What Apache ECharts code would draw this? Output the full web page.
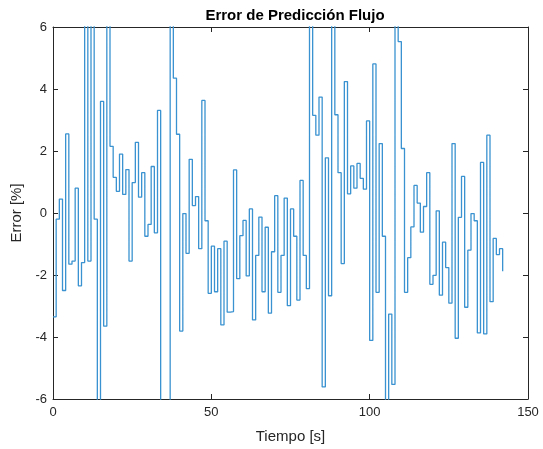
<!DOCTYPE html>
<html>
<head>
<meta charset="utf-8">
<script src="https://cdn.jsdelivr.net/npm/echarts@6/dist/echarts.min.js"></script>
<style>
  html, body { margin: 0; padding: 0; background: #ffffff; }
  #chart { width: 543px; height: 449px; }
</style>
</head>
<body>
<div id="chart"></div>
<script>
// Prediction error of the flow, one sample per second (stairs plot)
const sampleTime = 1; // s
const errorPct = [
  -3.35, -0.2, 0.45, -2.5, 2.55, -1.65, -1.55, 0.8, -2.35, -1.6,
  7.5, -1.55, 7.5, -0.2, -7.5, 3.6, -3.65, 7.5, 2.15, 1.15,
  0.7, 1.9, 0.6, 1.4, -1.55, 0.98, 2.28, 0.51, 1.3, -0.75,
  -0.37, 1.5, -0.64, 3.31, -7.5, -8.0, -7.5, 7.5, 4.35, 2.54,
  -3.81, -0.02, -1.3, 1.73, 0.24, 0.53, -1.15, 3.63, -0.25, -2.59,
  -1.07, -2.54, -1.15, -3.61, -0.91, -3.2, -3.18, 1.39, -2.12, -0.73,
  -0.24, -2.03, 0.13, -3.45, -1.37, -0.13, -2.54, -0.46, -3.23, -1.25,
  0.56, -2.56, -1.37, 0.48, -2.99, 0.13, -0.75, -2.81, 1.05, -1.37,
  -2.44, 7.5, 3.15, 2.51, 3.74, -5.61, 1.78, -2.67, 7.5, 3.17,
  1.3, -1.63, 4.24, 0.62, 1.52, 0.8, 1.6, 1.12, 0.77, 2.97,
  -4.11, 4.81, -2.56, 2.24, -0.75, -7.5, -3.26, -5.53, 7.5, 5.53,
  2.08, -2.56, -1.44, -0.45, 0.89, 0.32, -0.62, 0.21, 1.3, -2.3,
  -2.01, 0.07, -2.65, -0.94, -1.76, -2.91, 2.24, -4.04, -0.14, 1.18,
  -3.04, -1.2, -0.02, -0.25, -3.87, 1.63, -3.9, 2.51, -2.86, -0.82,
  -1.34, -1.15, -1.88
];
const xTicks = [0, 50, 100, 150];
const yTicks = [-6, -4, -2, 0, 2, 4, 6];

const axisColor = '#262626';
const fontFamily = '"Liberation Sans", Arial, Helvetica, sans-serif';

const points = errorPct.map((v, i) => [i * sampleTime, v]);

const chart = echarts.init(document.getElementById('chart'), null, { renderer: 'canvas' });

const baseAxis = {
  type: 'value',
  axisLine: { show: true, onZero: false, lineStyle: { color: axisColor, width: 1 } },
  axisTick: { show: true, inside: true, length: 5, lineStyle: { color: axisColor, width: 1 } },
  splitLine: { show: false },
  axisLabel: { color: axisColor, fontSize: 13, fontFamily: fontFamily }
};

chart.setOption({
  animation: false,
  backgroundColor: '#ffffff',
  title: {
    text: 'Error de Predicción Flujo',
    left: 290,
    top: 3,
    textAlign: 'center',
    textStyle: { color: '#000000', fontSize: 15, fontWeight: 'bold', fontFamily: fontFamily }
  },
  grid: { left: 53, right: 15, top: 27, bottom: 49, containLabel: false },
  xAxis: [
    Object.assign({}, baseAxis, {
      position: 'bottom',
      min: xTicks[0], max: xTicks[xTicks.length - 1], interval: 50,
      name: 'Tiempo [s]',
      nameLocation: 'middle',
      nameGap: 30,
      nameTextStyle: { color: axisColor, fontSize: 15, fontFamily: fontFamily },
      axisLabel: Object.assign({}, baseAxis.axisLabel, { margin: 7 })
    }),
    Object.assign({}, baseAxis, {
      position: 'top',
      min: xTicks[0], max: xTicks[xTicks.length - 1], interval: 50,
      axisLabel: { show: false }
    })
  ],
  yAxis: [
    Object.assign({}, baseAxis, {
      position: 'left',
      min: yTicks[0], max: yTicks[yTicks.length - 1], interval: 2,
      name: 'Error [%]',
      nameLocation: 'middle',
      nameGap: 20,
      nameTextStyle: { color: axisColor, fontSize: 15, fontFamily: fontFamily },
      axisLabel: Object.assign({}, baseAxis.axisLabel, { margin: 6 })
    }),
    Object.assign({}, baseAxis, {
      position: 'right',
      min: yTicks[0], max: yTicks[yTicks.length - 1], interval: 2,
      axisLabel: { show: false }
    })
  ],
  series: [{
    type: 'line',
    data: points,
    step: 'end',
    showSymbol: false,
    symbol: 'none',
    clip: true,
    xAxisIndex: 0,
    yAxisIndex: 0,
    lineStyle: { color: '#3a92d0', width: 1.3 }
  }]
});
</script>
</body>
</html>
